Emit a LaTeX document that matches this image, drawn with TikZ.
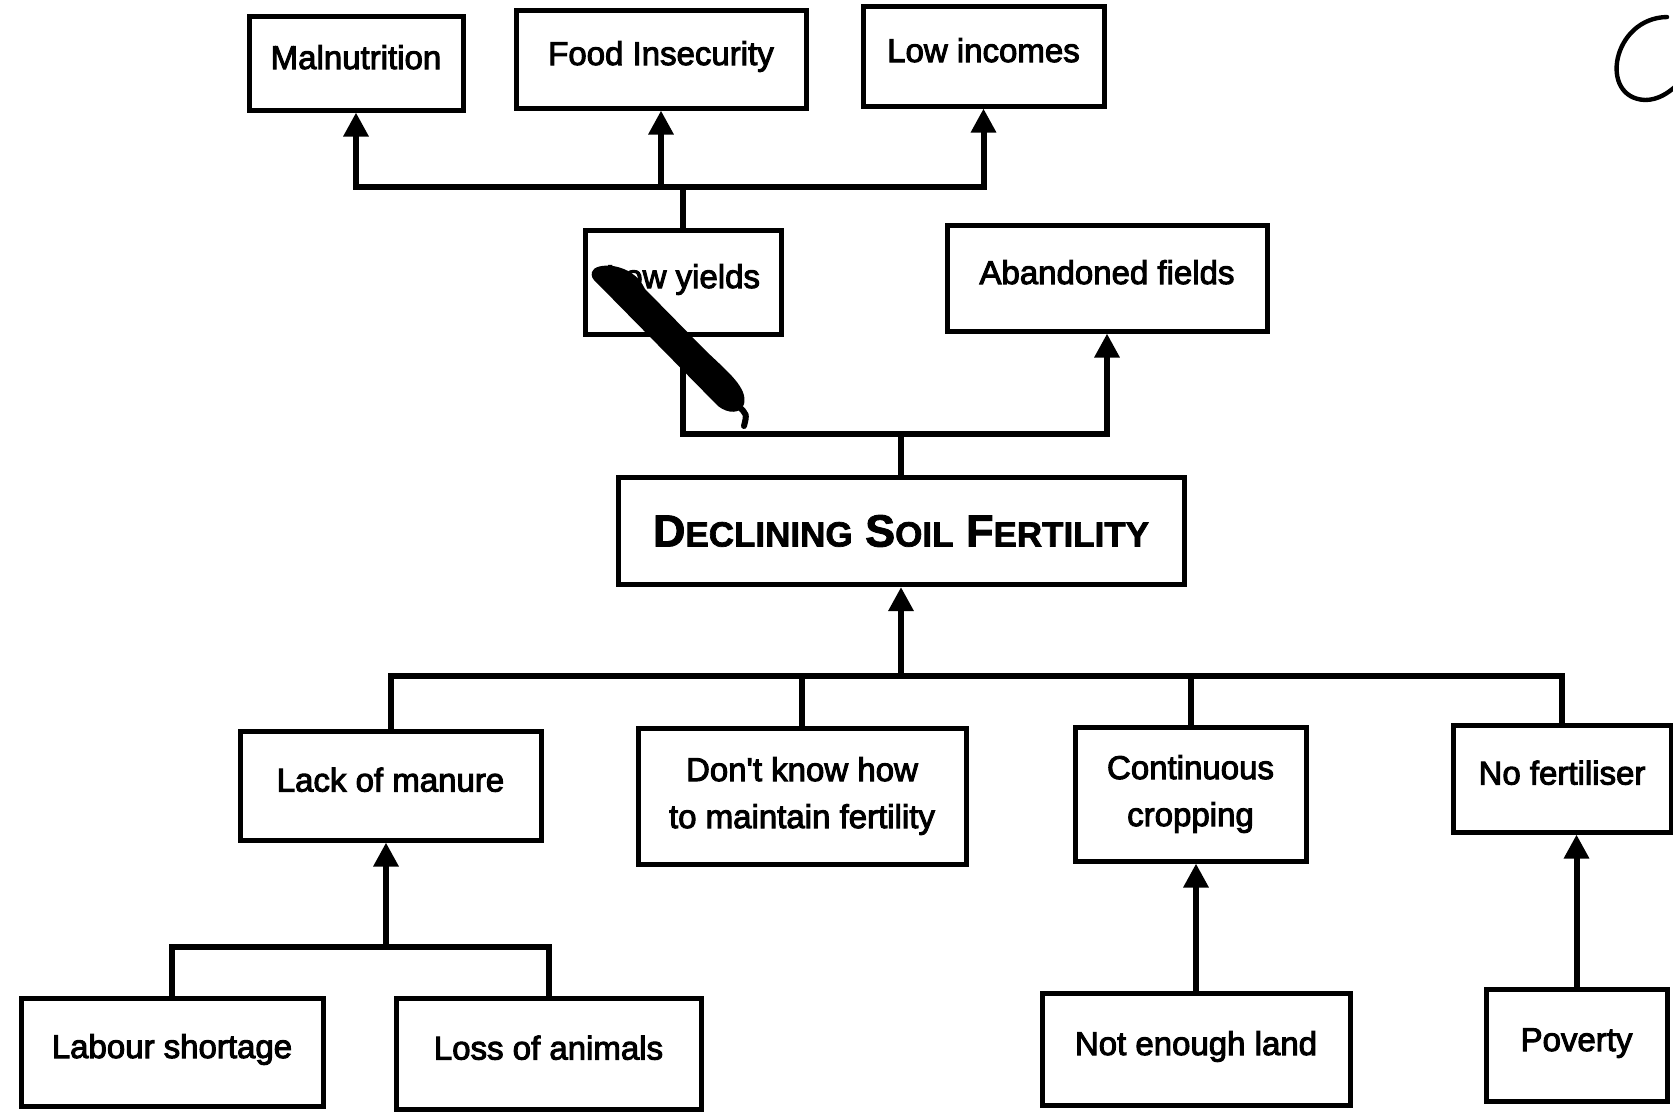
\documentclass[tikz,border=0pt]{standalone}
\usepackage{fontspec}
\setmainfont{Liberation Sans}
\newfontfamily\boxfont[FakeBold=3]{Liberation Sans}
\newfontfamily\titlefont[FakeBold=2]{Liberation Sans Bold}
\usetikzlibrary{arrows.meta}
\newcommand\smallcapsl[1]{{\fontsize{17.5}{20}\selectfont #1}}
\tikzset{
  box/.style={draw, line width=2.5pt, inner sep=0pt, align=center,
    font=\boxfont\fontsize{16.5}{23.5}\selectfont},
  oneline/.style={text height=0.75em, text depth=0.15em},
  link/.style={line width=3pt},
  arr/.style={link, -{Triangle[length=12pt,width=12pt]}},
}
\begin{document}
\begin{tikzpicture}[x=0.5pt,y=-0.5pt]
\useasboundingbox (0,0) rectangle (1673,1114);
% top row
\node[box, oneline, minimum width=107pt, minimum height=47pt] (mal) at (356,63) {Malnutrition};
\node[box, oneline, minimum width=145pt, minimum height=49pt] (food) at (661,59) {Food Insecurity};
\node[box, oneline, minimum width=120.5pt, minimum height=50pt] (inc) at (983.5,56) {Low incomes};
% middle
\node[box, oneline, minimum width=98pt, minimum height=52pt] (ly) at (683,282) {Low yields};
\node[box, oneline, minimum width=160pt, minimum height=53pt] (ab) at (1107,278) {Abandoned fields};
\node[box, minimum width=283pt, minimum height=53.5pt,
  font=\titlefont\fontsize{22.5}{26}\selectfont] (dsf) at (901,531)
  {D\smallcapsl{ECLINING} S\smallcapsl{OIL} F\smallcapsl{ERTILITY}};
% lower row
\node[box, oneline, minimum width=150.5pt, minimum height=54.5pt] (lom) at (390.5,785.5) {Lack of manure};
\node[box, minimum width=164pt, minimum height=68pt] (dk) at (802,796) {Don't know how\\to maintain fertility};
\node[box, minimum width=115.5pt, minimum height=67pt] (cc) at (1190.5,794) {Continuous\\cropping};
\node[box, oneline, minimum width=109pt, minimum height=53.5pt] (nf) at (1562,778.5) {No fertiliser};
% bottom row
\node[box, oneline, minimum width=151pt, minimum height=54pt] (ls) at (172,1052) {Labour shortage};
\node[box, oneline, minimum width=152.5pt, minimum height=55.5pt] (la) at (548.5,1053.5) {Loss of animals};
\node[box, oneline, minimum width=154pt, minimum height=56pt] (nel) at (1196,1049) {Not enough land};
\node[box, oneline, minimum width=90.5pt, minimum height=56pt] (pov) at (1576.5,1045) {Poverty};
% junction points
\coordinate (tb) at (683,187);
\coordinate (mb) at (901,434);
\coordinate (bb) at (901,676);
\coordinate (lb) at (386,947);
% top connectors
\draw[link] (ly.north) -- (ly.north |- tb);
\draw[arr] (ly.north |- tb) -| (mal.south);
\draw[arr] (ly.north |- tb) -| (inc.south);
\draw[arr] (food.south |- tb) -- (food.south);
% middle connectors
\draw[link] (ly.south) |- (mb);
\draw[link] (dsf.north) -- (mb);
\draw[arr] (mb) -| (ab.south);
% causes of declining soil fertility
\draw[arr] (bb) -- (dsf.south);
\draw[link] (lom.north) |- (bb);
\draw[link] (nf.north) |- (bb);
\draw[link] (dk.north) -- (dk.north |- bb);
\draw[link] (cc.north) -- (cc.north |- bb);
% lack of manure
\draw[arr] (lb) -- (lb |- lom.south);
\draw[link] (ls.north) |- (lb);
\draw[link] (la.north) |- (lb);
% single causes
\draw[arr] (nel.north) -- (nel.north |- cc.south);
\draw[arr] (pov.north) -- (pov.north |- nf.south);
% scribble over "Low yields"
\fill (592,272) .. controls (594,262) and (632,261) .. (645,289)
  -- (706,351) .. controls (728,372) and (748,388) .. (744,404)
  .. controls (741,414) and (728,414) .. (718,406)
  -- (598,284) .. controls (592,279) and (591,276) .. (592,272) -- cycle;
\draw[line width=3pt, line cap=round] (738,406) .. controls (747,414) .. (744,426);
% handwritten mark top right
\draw[line width=2.2pt, line cap=round] (1667,17) .. controls (1612,18) and (1598,98) .. (1645,100) .. controls (1658,100) and (1668,93) .. (1676,86);
\end{tikzpicture}
\end{document}
